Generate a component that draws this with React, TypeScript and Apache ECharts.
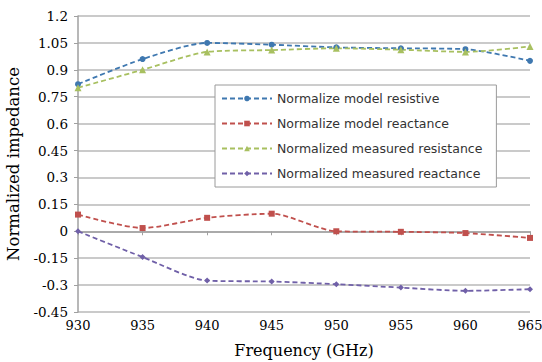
import React, { useEffect, useRef } from "react";
import * as echarts from "echarts";

const frequencies = ["930", "935", "940", "945", "950", "955", "960", "965"];
const modelResistive = [0.82, 0.96, 1.05, 1.04, 1.025, 1.02, 1.015, 0.95];
const modelReactance = [0.093, 0.018, 0.075, 0.098, 0.0, -0.003, -0.01, -0.037];
const measuredResistance = [0.8, 0.9, 1.0, 1.01, 1.02, 1.012, 1.0, 1.03];
const measuredReactance = [0.0, -0.144, -0.275, -0.28, -0.295, -0.314, -0.332, -0.323];

const seriesNames = [
  "Normalize model resistive",
  "Normalize model reactance",
  "Normalized measured resistance",
  "Normalized measured reactance",
];
const seriesColors = ["#3F78B0", "#C0504D", "#A8C060", "#7060A8"];
const seriesSymbols = ["circle", "rect", "triangle", "diamond"];

const SERIF = "DejaVu Serif";

export default function App() {
  const ref = useRef<HTMLDivElement>(null);
  useEffect(() => {
    if (!ref.current) return;
    const chart = echarts.init(ref.current, undefined, { renderer: "svg" });
    const data = [modelResistive, modelReactance, measuredResistance, measuredReactance];
    chart.setOption({
      animation: false,
      backgroundColor: "#fff",
      grid: { left: 78, right: 12, top: 16, bottom: 50, outerBoundsMode: "none", containLabel: false },
      legend: {
        orient: "vertical",
        left: 215,
        top: 85,
        backgroundColor: "#fff",
        borderColor: "#9a9a9a",
        borderWidth: 1,
        borderRadius: 0,
        padding: [7, 14, 7, 6],
        itemGap: 12,
        itemWidth: 50,
        itemHeight: 7,
        textStyle: { fontFamily: "DejaVu Sans", fontSize: 12.5, color: "#333" },
        data: seriesNames,
      },
      xAxis: {
        type: "category",
        data: frequencies,
        boundaryGap: false,
        name: "Frequency (GHz)",
        nameLocation: "middle",
        nameGap: 30,
        nameTextStyle: { fontFamily: SERIF, fontSize: 16, color: "#000" },
        axisLine: { lineStyle: { color: "#a0a0a0", width: 1.5 } },
        axisTick: { show: true, length: 4, lineStyle: { color: "#a0a0a0" } },
        axisLabel: { fontFamily: SERIF, fontSize: 13, color: "#000", margin: 7 },
        splitLine: { show: false },
      },
      yAxis: {
        type: "value",
        min: -0.45,
        max: 1.2,
        interval: 0.15,
        name: "Normalized impedance",
        nameLocation: "middle",
        nameGap: 50,
        nameTextStyle: { fontFamily: SERIF, fontSize: 16.5, color: "#000" },
        axisLine: { show: true, lineStyle: { color: "#a0a0a0", width: 1.5 } },
        axisTick: { show: true, length: 4, lineStyle: { color: "#a0a0a0" } },
        axisLabel: {
          fontFamily: SERIF,
          fontSize: 13.5,
          color: "#000",
          margin: 10,
          formatter: (v: number) => String(+v.toFixed(2)),
        },
        splitLine: { show: true, lineStyle: { color: "#b8b8b8", width: 1.5 } },
      },
      series: seriesNames.map((name, i) => ({
        name,
        type: "line",
        data: data[i],
        smooth: 0.25,
        symbol: seriesSymbols[i],
        symbolSize: i === 2 ? 7 : 6,
        showSymbol: true,
        itemStyle: { color: seriesColors[i] },
        lineStyle: { color: seriesColors[i], type: [5, 3], width: 1.8 },
      })),
    });
    return () => chart.dispose();
  }, []);
  return (
    <div
      ref={ref}
      style={{ position: "absolute", left: 0, top: 0, width: 542, height: 362 }}
    />
  );
}
